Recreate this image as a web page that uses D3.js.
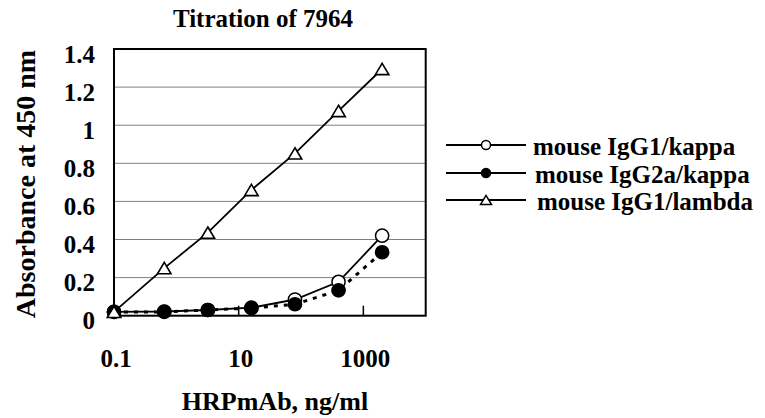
<!DOCTYPE html>
<html lang="en">
<head>
    <meta charset="UTF-8">
    <title>Titration of 7964</title>
    <script src="https://d3js.org/d3.v7.min.js"></script>
    <style>
        body { margin: 0; background: #fff; }
        svg text {
            font-family: "Liberation Serif", "Times New Roman", serif;
            font-weight: bold;
            fill: #000;
        }
        .grid line { stroke: #808080; stroke-width: 1; }
    </style>
</head>
<body>
    <svg width="765" height="418"></svg>
    <script>
        // concentrations (ng/ml) and absorbances
        const conc = [0.1, 0.64, 3.2, 16, 80, 400, 2000];
        const igg1Kappa = [0.02, 0.022, 0.03, 0.042, 0.085, 0.178, 0.42];
        const igg2aKappa = [0.02, 0.02, 0.03, 0.04, 0.06, 0.133, 0.333];
        const igg1Lambda = [0.02, 0.25, 0.436, 0.66, 0.852, 1.075, 1.295];
        const seriesNames = ["mouse IgG1/kappa", "mouse IgG2a/kappa", "mouse IgG1/lambda"];
        const yTicks = [0, 0.2, 0.4, 0.6, 0.8, 1, 1.2, 1.4];
        const xTicks = [0.1, 10, 1000];

        const svg = d3.select("svg");
        const plot = {left: 114, right: 425.7, top: 49, bottom: 315.7};

        const x = d3.scaleLog().domain([0.1, 10000]).range([plot.left, plot.right]);
        const y = d3.scaleLinear().domain([0, 1.4]).range([plot.bottom, plot.top]);

        // gridlines
        svg.append("g").attr("class", "grid")
           .selectAll("line")
           .data(yTicks.slice(1))
           .join("line")
           .attr("x1", plot.left).attr("x2", plot.right)
           .attr("y1", d => y(d)).attr("y2", d => y(d));

        // plot frame
        svg.append("rect")
           .attr("x", plot.left).attr("y", plot.top)
           .attr("width", plot.right - plot.left)
           .attr("height", plot.bottom - plot.top)
           .attr("fill", "none").attr("stroke", "#000").attr("stroke-width", 2);

        // x tick marks (inside)
        svg.append("g").selectAll("line")
           .data(xTicks.slice(1))
           .join("line")
           .attr("x1", d => x(d)).attr("x2", d => x(d))
           .attr("y1", plot.bottom).attr("y2", plot.bottom - 10)
           .attr("stroke", "#000").attr("stroke-width", 1.5);

        // tick labels
        svg.append("g").selectAll("text")
           .data(yTicks)
           .join("text")
           .attr("x", 95).attr("y", d => y(d) + 13.5)
           .attr("text-anchor", "end")
           .style("font-size", "25px")
           .text(d => d3.format("~g")(d));

        svg.append("g").selectAll("text")
           .data(xTicks)
           .join("text")
           .attr("x", d => x(d) + 2).attr("y", 367)
           .attr("text-anchor", "middle")
           .style("font-size", "25px")
           .text(d => d);

        // titles
        svg.append("text")
           .attr("x", 263).attr("y", 27)
           .attr("text-anchor", "middle")
           .style("font-size", "25px")
           .text("Titration of 7964");

        svg.append("text")
           .attr("x", 275).attr("y", 410)
           .attr("text-anchor", "middle")
           .style("font-size", "26px")
           .text("HRPmAb, ng/ml");

        svg.append("text")
           .attr("transform", "translate(35,184) rotate(-90)")
           .attr("text-anchor", "middle")
           .style("font-size", "28px")
           .text("Absorbance at 450 nm");

        const line = d3.line().x(d => x(d[0])).y(d => y(d[1]));
        const tri = s => `M0,${-s * 0.42}L${s / 2},${s * 0.42}L${-s / 2},${s * 0.42}Z`;

        const series = [
            {name: seriesNames[0], values: igg1Kappa, marker: "circle", fill: "#fff", dash: null},
            {name: seriesNames[1], values: igg2aKappa, marker: "circle", fill: "#000", dash: "4,6"},
            {name: seriesNames[2], values: igg1Lambda, marker: "triangle", fill: "#fff", dash: null}
        ];

        series.forEach(s => {
            const pts = conc.map((c, i) => [c, s.values[i]]);
            svg.append("path")
               .attr("d", line(pts))
               .attr("fill", "none")
               .attr("stroke", "#000")
               .attr("stroke-width", s.dash ? 3 : 1.8)
               .attr("stroke-dasharray", s.dash);
            const g = svg.append("g");
            if (s.marker === "circle") {
                g.selectAll("circle").data(pts).join("circle")
                 .attr("cx", d => x(d[0])).attr("cy", d => y(d[1]))
                 .attr("r", 6.6)
                 .attr("fill", s.fill).attr("stroke", "#000").attr("stroke-width", 1.5);
            } else {
                g.selectAll("path").data(pts).join("path")
                 .attr("transform", d => `translate(${x(d[0])},${y(d[1])})`)
                 .attr("d", tri(13.5))
                 .attr("fill", s.fill).attr("stroke", "#000").attr("stroke-width", 1.6);
            }
        });

        // legend
        const legendRows = [145, 173, 200];
        const legend = svg.append("g");
        series.forEach((s, i) => {
            const ly = legendRows[i];
            const row = legend.append("g");
            row.append("line")
               .attr("x1", 446).attr("x2", 526)
               .attr("y1", ly).attr("y2", ly)
               .attr("stroke", "#000").attr("stroke-width", 1.8);
            if (s.marker === "circle") {
                row.append("circle").attr("cx", 486).attr("cy", ly).attr("r", 4.5)
                   .attr("fill", s.fill).attr("stroke", "#000").attr("stroke-width", 1.5);
            } else {
                row.append("path").attr("transform", `translate(486,${ly})`)
                   .attr("d", tri(11))
                   .attr("fill", s.fill).attr("stroke", "#000").attr("stroke-width", 1.5);
            }
            row.append("text")
               .attr("x", 533 + i * 2).attr("y", ly + 10)
               .style("font-size", "25px")
               .text(s.name);
        });
    </script>
</body>
</html>
